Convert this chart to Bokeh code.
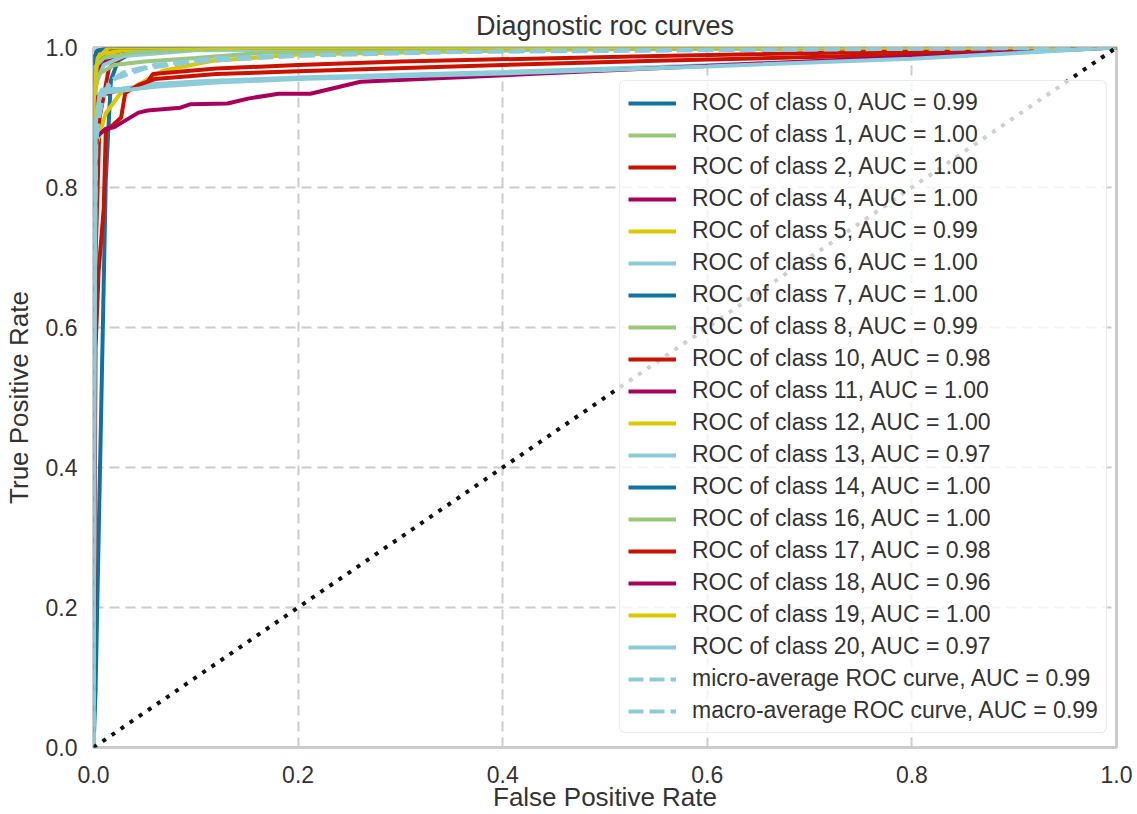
from bokeh.plotting import figure
from bokeh.models import FixedTicker, PrintfTickFormatter, Legend, LegendItem
from bokeh.embed import file_html
from bokeh.resources import INLINE

# ---- data ---------------------------------------------------------------
class_names = ["0", "1", "2", "4", "5", "6", "7", "8", "10", "11",
               "12", "13", "14", "16", "17", "18", "19", "20"]
auc_values = [0.99, 1.00, 1.00, 1.00, 0.99, 1.00, 1.00, 0.99, 0.98, 1.00,
              1.00, 0.97, 1.00, 1.00, 0.98, 0.96, 1.00, 0.97]
micro_auc = 0.99
macro_auc = 0.99

fpr_c0 = [0, 0.002, 0.012, 0.017, 0.024, 0.036, 0.08, 1]
tpr_c0 = [0, 0.08, 0.81, 0.953, 0.981, 0.991, 0.997, 1]
fpr_c1 = [0, 0, 0.004, 0.012, 0.03, 0.06, 1]
tpr_c1 = [0, 0.95, 0.975, 0.99, 0.996, 1, 1]
fpr_c2 = [0, 0, 0.002, 0.006, 0.015, 0.03, 0.08, 1]
tpr_c2 = [0, 0.45, 0.7, 0.9, 0.97, 0.99, 0.998, 1]
fpr_c4 = [0, 0, 0.01, 0.025, 0.06, 0.12, 1]
tpr_c4 = [0, 0.96, 0.98, 0.99, 0.996, 0.999, 1]
fpr_c5 = [0, 0, 0.004, 0.012, 0.026, 0.039, 0.068, 0.117, 0.2, 0.45, 1]
tpr_c5 = [0, 0.85, 0.867, 0.906, 0.934, 0.943, 0.967, 0.981, 0.99, 0.997, 1]
fpr_c6 = [0, 0, 0.003, 0.01, 0.03, 0.1, 1]
tpr_c6 = [0, 0.9, 0.95, 0.975, 0.988, 0.996, 1]
fpr_c7 = [0, 0, 0.008, 0.03, 1]
tpr_c7 = [0, 0.97, 0.99, 1, 1]
fpr_c8 = [0, 0, 0.005, 0.02, 0.05, 0.1, 0.17, 0.5, 1]
tpr_c8 = [0, 0.93, 0.962, 0.975, 0.98, 0.985, 0.993, 0.998, 1]
fpr_c10 = [0, 0, 0.004, 0.02, 0.05, 0.058, 0.12, 0.2, 0.3, 0.55, 1]
tpr_c10 = [0, 0.6, 0.93, 0.937, 0.945, 0.962, 0.97, 0.975, 0.98, 0.988, 1]
fpr_c11 = [0, 0, 0.005, 0.02, 1]
tpr_c11 = [0, 0.985, 0.995, 1, 1]
fpr_c12 = [0, 0, 0.005, 0.03, 0.17, 1]
tpr_c12 = [0, 0.97, 0.99, 0.996, 1, 1]
fpr_c13 = [0, 0.002, 0.008, 0.027, 0.06, 0.11, 0.2, 0.4, 0.55, 0.8, 1]
tpr_c13 = [0, 0.9, 0.94, 0.941, 0.948, 0.952, 0.957, 0.965, 0.972, 0.985, 1]
fpr_c14 = [0, 0, 0.003, 0.015, 1]
tpr_c14 = [0, 0.98, 0.995, 1, 1]
fpr_c16 = [0, 0, 0.01, 0.04, 0.15, 1]
tpr_c16 = [0, 0.97, 0.985, 0.993, 1, 1]
fpr_c17 = [0, 0.002, 0.005, 0.01, 0.012, 0.027, 0.031, 0.045, 0.06, 0.12, 0.2, 0.4, 0.55, 0.8, 1]
tpr_c17 = [0, 0.57, 0.68, 0.77, 0.88, 0.90, 0.935, 0.947, 0.955, 0.962, 0.966, 0.975, 0.981, 0.99, 1]
fpr_c18 = [0, 0, 0.002, 0.012, 0.02, 0.028, 0.044, 0.053, 0.085, 0.095, 0.131, 0.151, 0.181, 0.212, 0.261, 0.544, 1]
tpr_c18 = [0, 0.85, 0.871, 0.884, 0.886, 0.893, 0.907, 0.91, 0.914, 0.919, 0.92, 0.927, 0.934, 0.934, 0.951, 0.97, 1]
fpr_c19 = [0, 0, 0.004, 0.015, 1]
tpr_c19 = [0, 0.92, 0.985, 1, 1]
fpr_c20 = [0, 0.002, 0.006, 0.025, 0.06, 0.12, 0.2, 0.4, 0.6, 0.8, 1]
tpr_c20 = [0, 0.89, 0.935, 0.938, 0.944, 0.95, 0.955, 0.963, 0.973, 0.984, 1]

fpr_micro = [0, 0, 0.002, 0.005, 0.01, 0.02, 0.05, 0.1, 0.2, 0.4, 1]
tpr_micro = [0, 0.55, 0.85, 0.9, 0.935, 0.955, 0.97, 0.98, 0.988, 0.995, 1]
fpr_macro = [0, 0, 0.003, 0.008, 0.015, 0.03, 0.06, 0.12, 0.3, 1]
tpr_macro = [0, 0.6, 0.88, 0.92, 0.95, 0.965, 0.975, 0.985, 0.993, 1]

ticks = [0.0, 0.2, 0.4, 0.6, 0.8, 1.0]

palette = ["#0e72a6", "#9ac77b", "#cc1100", "#a8005c", "#dbc900", "#8ccbda"]

class_fpr = [fpr_c0, fpr_c1, fpr_c2, fpr_c4, fpr_c5, fpr_c6, fpr_c7, fpr_c8, fpr_c10,
             fpr_c11, fpr_c12, fpr_c13, fpr_c14, fpr_c16, fpr_c17, fpr_c18, fpr_c19, fpr_c20]
class_tpr = [tpr_c0, tpr_c1, tpr_c2, tpr_c4, tpr_c5, tpr_c6, tpr_c7, tpr_c8, tpr_c10,
             tpr_c11, tpr_c12, tpr_c13, tpr_c14, tpr_c16, tpr_c17, tpr_c18, tpr_c19, tpr_c20]

FONT = "Liberation Sans"
TEXT = "#333333"

p = figure(width=1137, height=814, x_range=(0, 1), y_range=(0, 1),
           output_backend="svg", toolbar_location=None,
           min_border_left=93, min_border_right=21,
           min_border_top=47, min_border_bottom=67,
           title="Diagnostic roc curves")

p.title.align = "center"
p.title.text_font = FONT
p.title.text_font_size = "27px"
p.title.text_font_style = "normal"
p.title.text_color = TEXT
p.title.standoff = 14

p.background_fill_color = "white"
p.border_fill_color = "white"
p.outline_line_color = "#cccccc"
p.outline_line_width = 3

for ax in (p.xaxis[0], p.yaxis[0]):
    ax.ticker = FixedTicker(ticks=ticks)
    ax.formatter = PrintfTickFormatter(format="%.1f")
    ax.axis_line_color = None
    ax.major_tick_line_color = None
    ax.minor_tick_line_color = None
    ax.major_tick_out = 0
    ax.major_tick_in = 0
    ax.major_label_text_font = FONT
    ax.major_label_text_font_size = "23px"
    ax.major_label_text_color = TEXT
    ax.axis_label_text_font = FONT
    ax.axis_label_text_font_size = "26px"
    ax.axis_label_text_font_style = "normal"
    ax.axis_label_text_color = TEXT

p.xaxis.axis_label = "False Positive Rate"
p.yaxis.axis_label = "True Positive Rate"
p.xaxis.major_label_standoff = 18
p.yaxis.major_label_standoff = 16
p.xaxis.axis_label_standoff = -4
p.yaxis.axis_label_standoff = 9

for g in (p.xgrid[0], p.ygrid[0]):
    g.ticker = FixedTicker(ticks=ticks)
    g.grid_line_color = "#cccccc"
    g.grid_line_width = 2
    g.grid_line_dash = "10 6"

items = []
for i, name in enumerate(class_names):
    r = p.line(class_fpr[i], class_tpr[i], line_color=palette[i % 6], line_width=4)
    items.append(LegendItem(label="ROC of class %s, AUC = %.2f" % (name, auc_values[i]),
                            renderers=[r]))

r_micro = p.line(fpr_micro, tpr_micro, line_color=palette[5], line_width=4,
                 line_dash="15 6")
items.append(LegendItem(label="micro-average ROC curve, AUC = %.2f" % micro_auc,
                        renderers=[r_micro]))
r_macro = p.line(fpr_macro, tpr_macro, line_color=palette[5], line_width=4,
                 line_dash="15 6")
items.append(LegendItem(label="macro-average ROC curve, AUC = %.2f" % macro_auc,
                        renderers=[r_macro]))

# chance diagonal
p.line([0, 1], [0, 1], line_color="#111111", line_width=4, line_dash="4 7")

legend = Legend(items=items, location=(526, 14))
legend.label_text_font = FONT
legend.label_text_font_size = "23px"
legend.label_text_color = TEXT
legend.glyph_width = 48
legend.glyph_height = 20
legend.label_height = 20
legend.label_standoff = 16
legend.spacing = 5
legend.padding = 8
legend.margin = 0
legend.border_line_color = "#d6d6d6"
legend.border_line_width = 1.5
legend.border_radius = 6
legend.background_fill_color = "white"
legend.background_fill_alpha = 0.8
p.add_layout(legend, "center")

open("out.html", "w").write(file_html(p, INLINE))
